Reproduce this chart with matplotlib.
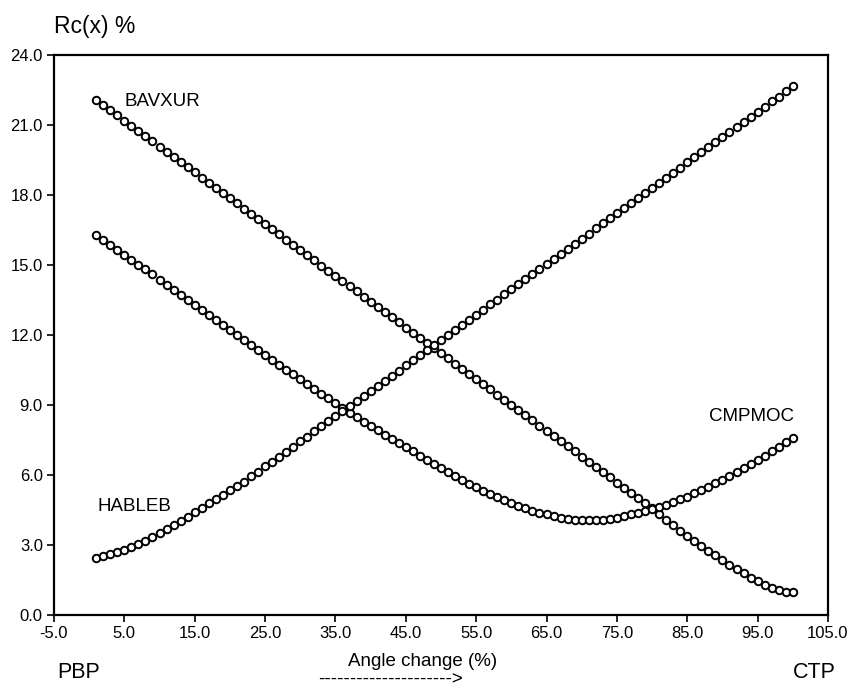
import numpy as np
import matplotlib
matplotlib.use("Agg")
import matplotlib.pyplot as plt
from matplotlib.ticker import FormatStrFormatter

plt.rcParams['font.family'] = ['Liberation Sans', 'DejaVu Sans']

# angle change steps, 1 .. 100 %
angle = np.arange(1, 101)

bavxur = [22.07, 21.85, 21.63, 21.41, 21.18, 20.96, 20.74, 20.52, 20.30, 20.08,
          19.86, 19.63, 19.41, 19.19, 18.97, 18.75, 18.53, 18.30, 18.08, 17.86,
          17.64, 17.42, 17.20, 16.98, 16.75, 16.53, 16.31, 16.09, 15.87, 15.65,
          15.43, 15.20, 14.98, 14.76, 14.54, 14.32, 14.10, 13.88, 13.65, 13.43,
          13.21, 12.99, 12.77, 12.55, 12.32, 12.10, 11.88, 11.66, 11.44, 11.22,
          11.00, 10.77, 10.55, 10.33, 10.11, 9.89, 9.67, 9.45, 9.22, 9.00,
          8.78, 8.56, 8.34, 8.12, 7.89, 7.67, 7.45, 7.23, 7.01, 6.79,
          6.57, 6.34, 6.12, 5.90, 5.68, 5.46, 5.24, 5.02, 4.79, 4.57,
          4.33, 4.08, 3.85, 3.62, 3.40, 3.19, 2.97, 2.76, 2.56, 2.36,
          2.16, 1.97, 1.79, 1.61, 1.45, 1.30, 1.17, 1.07, 1.01, 0.97]

cmpmoc = [16.27, 16.06, 15.85, 15.64, 15.44, 15.23, 15.02, 14.81, 14.60, 14.38,
          14.16, 13.94, 13.72, 13.50, 13.28, 13.06, 12.84, 12.63, 12.42, 12.21,
          12.00, 11.78, 11.56, 11.34, 11.13, 10.92, 10.71, 10.51, 10.31, 10.11,
          9.90, 9.69, 9.49, 9.29, 9.08, 8.88, 8.68, 8.48, 8.29, 8.10,
          7.91, 7.73, 7.55, 7.37, 7.19, 7.01, 6.83, 6.65, 6.47, 6.30,
          6.12, 5.95, 5.79, 5.62, 5.47, 5.33, 5.19, 5.05, 4.93, 4.81,
          4.69, 4.58, 4.48, 4.39, 4.31, 4.24, 4.18, 4.13, 4.09, 4.07,
          4.06, 4.07, 4.09, 4.13, 4.18, 4.24, 4.31, 4.39, 4.47, 4.55,
          4.63, 4.72, 4.84, 4.96, 5.08, 5.21, 5.35, 5.50, 5.65, 5.80,
          5.96, 6.13, 6.30, 6.48, 6.65, 6.83, 7.02, 7.21, 7.40, 7.60]

hableb = [2.46, 2.53, 2.60, 2.69, 2.80, 2.93, 3.05, 3.19, 3.36, 3.51,
          3.68, 3.85, 4.05, 4.22, 4.41, 4.58, 4.79, 4.97, 5.15, 5.34,
          5.54, 5.72, 5.94, 6.15, 6.37, 6.55, 6.77, 6.97, 7.22, 7.44,
          7.65, 7.87, 8.09, 8.30, 8.52, 8.74, 8.96, 9.17, 9.39, 9.61,
          9.83, 10.04, 10.26, 10.48, 10.70, 10.91, 11.13, 11.35, 11.57, 11.78,
          12.00, 12.22, 12.44, 12.65, 12.87, 13.09, 13.31, 13.52, 13.74, 13.96,
          14.18, 14.39, 14.61, 14.83, 15.05, 15.26, 15.48, 15.70, 15.92, 16.13,
          16.35, 16.57, 16.79, 17.00, 17.22, 17.44, 17.66, 17.87, 18.09, 18.31,
          18.53, 18.74, 18.96, 19.18, 19.40, 19.61, 19.83, 20.05, 20.27, 20.48,
          20.70, 20.92, 21.14, 21.35, 21.57, 21.79, 22.01, 22.22, 22.44, 22.66]

x_ticks = np.arange(-5, 106, 10)
y_ticks = np.arange(0, 25, 3)

fig = plt.figure(figsize=(8.5, 6.88), dpi=100)
ax = fig.add_axes([0.0635, 0.106, 0.9106, 0.814])

for series in (bavxur, cmpmoc, hableb):
    ax.plot(angle, series, linestyle='none', marker='o', markersize=5.4,
            markerfacecolor='white', markeredgecolor='black', markeredgewidth=1.4)

ax.set_xlim(-5, 105)
ax.set_ylim(0, 24)
ax.set_xticks(x_ticks)
ax.set_yticks(y_ticks)
ax.xaxis.set_major_formatter(FormatStrFormatter('%.1f'))
ax.yaxis.set_major_formatter(FormatStrFormatter('%.1f'))
ax.tick_params(direction='out', length=5, width=1.2, labelsize=12, pad=3)
for sp in ax.spines.values():
    sp.set_linewidth(1.6)

# curve names
ax.text(5.0, 22.0, 'BAVXUR', fontsize=13.5, va='center', ha='left')
ax.text(1.2, 4.65, 'HABLEB', fontsize=13.5, va='center', ha='left')
ax.text(100.2, 8.5, 'CMPMOC', fontsize=13.5, va='center', ha='right')

fig.text(0.063, 0.961, 'Rc(x) %', fontsize=16.5, va='center', ha='left')
fig.text(0.497, 0.039, 'Angle change (%)', fontsize=13.5, va='center', ha='center')
fig.text(0.459, 0.012, '--------------------->', fontsize=13.5, va='center', ha='center')
fig.text(0.067, 0.023, 'PBP', fontsize=15.5, va='center', ha='left')
fig.text(0.983, 0.023, 'CTP', fontsize=15.5, va='center', ha='right')

fig.savefig('out.png', dpi=100)
